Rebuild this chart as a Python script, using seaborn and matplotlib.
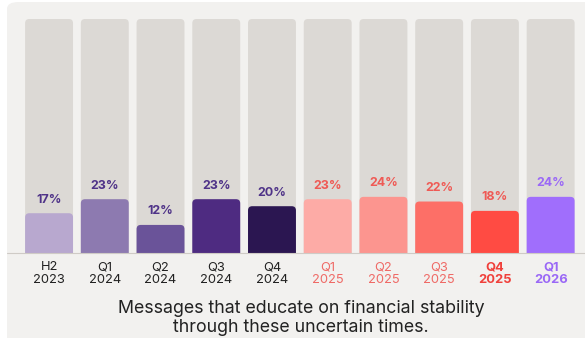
import matplotlib
matplotlib.use("Agg")
import matplotlib.pyplot as plt
from matplotlib.patches import FancyBboxPatch
import seaborn as sns
import pandas as pd

periods = ["H2\n2023", "Q1\n2024", "Q2\n2024", "Q3\n2024", "Q4\n2024",
           "Q1\n2025", "Q2\n2025", "Q3\n2025", "Q4\n2025", "Q1\n2026"]
shares = [17, 23, 12, 23, 20, 23, 24, 22, 18, 24]
bar_colors = ["#b8a8cf", "#8d7ab0", "#6a5399", "#4e2b81", "#2b1651",
              "#fdaba6", "#fc958f", "#fd6f67", "#ff4b43", "#a06efc"]
value_colors = ["#4f3388"] * 5 + ["#ef5a55"] * 4 + ["#9a68f6"]
tick_colors = ["#222222"] * 5 + ["#ef6a66"] * 3 + ["#f0403b", "#9a68f6"]
tick_weights = ["normal"] * 8 + ["bold", "bold"]
caption = "Messages that educate on financial stability\nthrough these uncertain times."

sns.set_theme(style="white")
plt.rcParams["font.family"] = ["Inter", "DejaVu Sans"]

W, H = 585, 338
fig = plt.figure(figsize=(W / 100, H / 100), dpi=100)
fig.patch.set_facecolor("white")

# light panel behind the chart
panel = FancyBboxPatch((7 / W, -0.05), 1.1, 1.05 - 2 / H,
                       boxstyle="round,pad=0,rounding_size=0.02",
                       transform=fig.transFigure, facecolor="#f2f1ef",
                       edgecolor="none", zorder=-10)
fig.patches.append(panel)

ax = fig.add_axes([21.2 / W, 85 / H, 557.3 / W, 234 / H])
ax.set_facecolor("none")

df = pd.DataFrame({"period": periods, "share": shares, "full": [100] * len(periods)})
sns.barplot(data=df, x="period", y="full", color="#dcd9d5", width=0.86,
            ax=ax, saturation=1)
sns.barplot(data=df, x="period", y="share", hue="period", palette=bar_colors,
            width=0.86, ax=ax, saturation=1, legend=False)

ax.set_xlim(-0.5, len(periods) - 0.5)
ax.set_ylim(0, 100)

# rounded tops: swap every rectangle for a rounded box
px_x = 557.3 / len(periods)
px_y = 234 / 100
aspect = px_x / px_y
for p in list(ax.patches):
    x0, w, h = p.get_x(), p.get_width(), p.get_height()
    fc = p.get_facecolor()
    p.remove()
    box = FancyBboxPatch((x0, -4), w, h + 4,
                         boxstyle="round,pad=0,rounding_size=0.075",
                         mutation_aspect=aspect, facecolor=fc,
                         edgecolor="none", clip_on=True)
    ax.add_patch(box)

for i, (v, c) in enumerate(zip(shares, value_colors)):
    ax.text(i, v + 5.8, f"{v}%", ha="center", va="center", fontsize=9,
            fontweight="bold", color=c)

ax.set_xticks(range(len(periods)))
ax.set_xticklabels(periods, fontsize=9.3, linespacing=1.1)
for lbl, c, wgt in zip(ax.get_xticklabels(), tick_colors, tick_weights):
    lbl.set_color(c)
    lbl.set_fontweight(wgt)
ax.tick_params(axis="x", length=0, pad=6)
ax.set_yticks([])
ax.set_xlabel("")
ax.set_ylabel("")
for s in ax.spines.values():
    s.set_visible(False)

# baseline rule across the panel
fig.add_artist(plt.Line2D([7 / W, 1], [85 / H, 85 / H], transform=fig.transFigure,
                          color="#cfcbc6", linewidth=0.8, zorder=3))

fig.text(301 / W, 1 - 318 / H, caption, ha="center", va="center",
         fontsize=12.8, color="#222222", linespacing=1.1)

fig.savefig("out.png", dpi=100, facecolor="white")
